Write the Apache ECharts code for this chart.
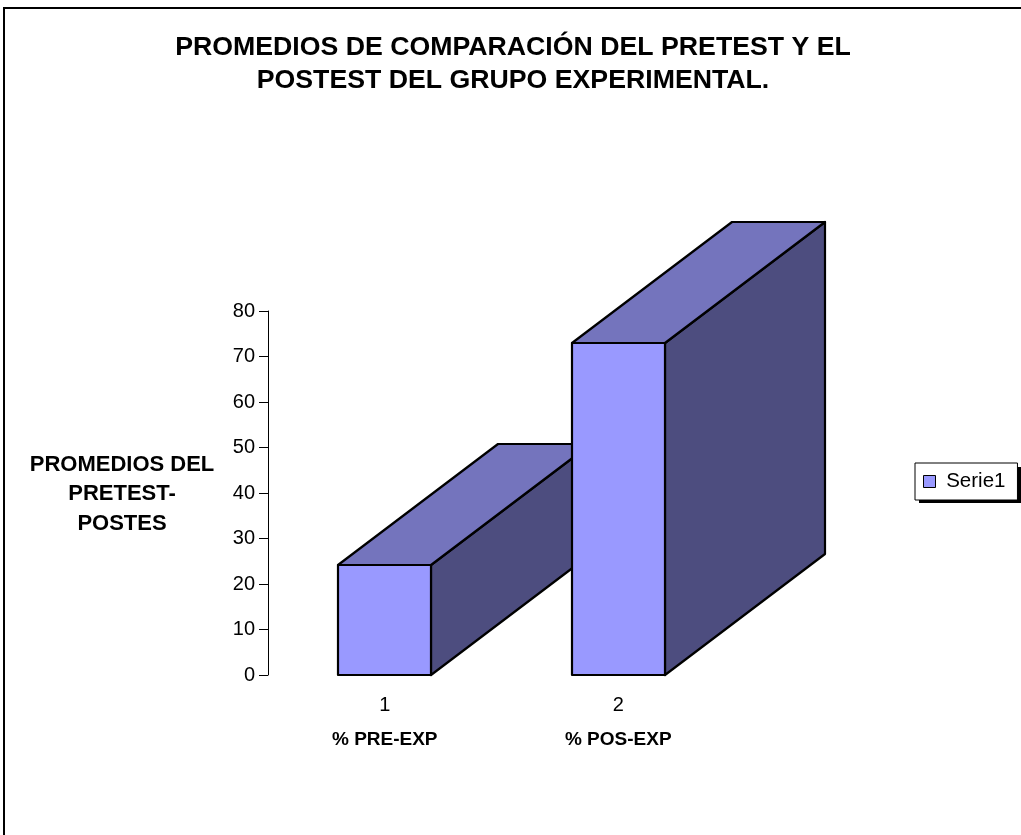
<!DOCTYPE html>
<html>
<head>
<meta charset="utf-8">
<script src="https://cdn.jsdelivr.net/npm/echarts@6/dist/echarts.min.js"></script>
<style>
  html, body { margin: 0; padding: 0; background: #fff; }
  #chart { width: 1021px; height: 835px; }
</style>
</head>
<body>
<div id="chart"></div>
<script>
// Data
const categories = ['1', '2'];
const categoryNames = ['% PRE-EXP', '% POS-EXP'];
const values = [24.2, 73];
const seriesName = 'Serie1';
const yTicks = { min: 0, max: 80, interval: 10 };

const FONT = '"Liberation Sans", Arial, sans-serif';
const FRONT = '#9999FF';
const TOP = '#7474BD';
const SIDE = '#4D4D7F';
const BAR_RATIO = 0.398;
const DEPTH_X = 160;
const DEPTH_Y = -121;

// 3D box: side face, top face, then front face
function renderBox(params, api) {
  const idx = api.value(0);
  const v = api.value(1);
  const base = api.coord([idx, 0]);
  const top = api.coord([idx, v]);
  const bw = api.size([1, 0])[0] * BAR_RATIO;
  const x0 = Math.round(base[0] - bw / 2);
  const x1 = Math.round(base[0] + bw / 2);
  const yb = Math.round(base[1]);
  const yt = Math.round(top[1]);
  const edge = { stroke: '#000', lineWidth: 2.2, lineJoin: 'round' };
  return {
    type: 'group',
    children: [
      {
        type: 'polygon',
        shape: { points: [[x1, yt], [x1 + DEPTH_X, yt + DEPTH_Y], [x1 + DEPTH_X, yb + DEPTH_Y], [x1, yb]] },
        style: Object.assign({ fill: SIDE }, edge)
      },
      {
        type: 'polygon',
        shape: { points: [[x0, yt], [x1, yt], [x1 + DEPTH_X, yt + DEPTH_Y], [x0 + DEPTH_X, yt + DEPTH_Y]] },
        style: Object.assign({ fill: TOP }, edge)
      },
      {
        type: 'rect',
        shape: { x: x0, y: yt, width: x1 - x0, height: yb - yt },
        style: Object.assign({ fill: FRONT }, edge)
      }
    ]
  };
}

const chart = echarts.init(document.getElementById('chart'), null, { renderer: 'canvas' });

chart.setOption({
  animation: false,
  backgroundColor: '#fff',
  title: {
    text: 'PROMEDIOS DE COMPARACIÓN DEL PRETEST Y EL\nPOSTEST DEL GRUPO EXPERIMENTAL.',
    left: 513,
    top: 31,
    padding: 0,
    textAlign: 'center',
    textStyle: { fontFamily: FONT, fontSize: 26.7, fontWeight: 'bold', color: '#000', lineHeight: 33 }
  },
  legend: {
    left: 915,
    top: 463,
    padding: [8, 12, 8, 8],
    backgroundColor: '#fff',
    borderColor: '#000',
    borderWidth: 1,
    itemWidth: 12,
    itemHeight: 12,
    icon: 'rect',
    itemStyle: { color: FRONT, borderColor: '#000', borderWidth: 1 },
    formatter: name => ' ' + name,
    textStyle: { fontFamily: FONT, fontSize: 20.5, color: '#000' },
    data: [seriesName]
  },
  grid: { left: 268, top: 311, width: 467, height: 364, containLabel: false },
  xAxis: {
    type: 'category',
    data: categories,
    axisLine: { show: false },
    axisTick: { show: false },
    axisLabel: {
      margin: 20,
      formatter: (val, i) => '{n|' + val + '}\n{b|' + categoryNames[i] + '}',
      rich: {
        n: { fontFamily: FONT, fontSize: 20, color: '#000', lineHeight: 20 },
        b: { fontFamily: FONT, fontSize: 19, fontWeight: 'bold', color: '#000', lineHeight: 50 }
      }
    },
    splitLine: { show: false }
  },
  yAxis: {
    type: 'value',
    min: yTicks.min,
    max: yTicks.max,
    interval: yTicks.interval,
    axisLine: { show: true, lineStyle: { color: '#000', width: 1 } },
    axisTick: { show: true, inside: false, length: 9, lineStyle: { color: '#000' } },
    axisLabel: { margin: 13, fontFamily: FONT, fontSize: 20, color: '#000' },
    splitLine: { show: false }
  },
  graphic: [
    {
      type: 'rect',
      silent: true,
      z: -10,
      shape: { x: 4, y: 8, width: 1100, height: 1000 },
      style: { fill: 'none', stroke: '#000', lineWidth: 2 }
    },
    {
      type: 'text',
      silent: true,
      style: {
        x: 122,
        y: 494,
        text: 'PROMEDIOS DEL\nPRETEST-\nPOSTES',
        align: 'center',
        verticalAlign: 'middle',
        fontFamily: FONT,
        fontSize: 22,
        fontWeight: 'bold',
        lineHeight: 29.5,
        fill: '#000'
      }
    },
    {
      type: 'rect',
      silent: true,
      z: 1,
      shape: { x: 919, y: 467, width: 103, height: 36 },
      style: { fill: '#000' }
    }
  ],
  series: [
    {
      name: seriesName,
      type: 'custom',
      renderItem: renderBox,
      itemStyle: { color: FRONT },
      encode: { x: 0, y: 1 },
      clip: false,
      data: categories.map((c, i) => [i, values[i]])
    }
  ]
});
</script>
</body>
</html>
